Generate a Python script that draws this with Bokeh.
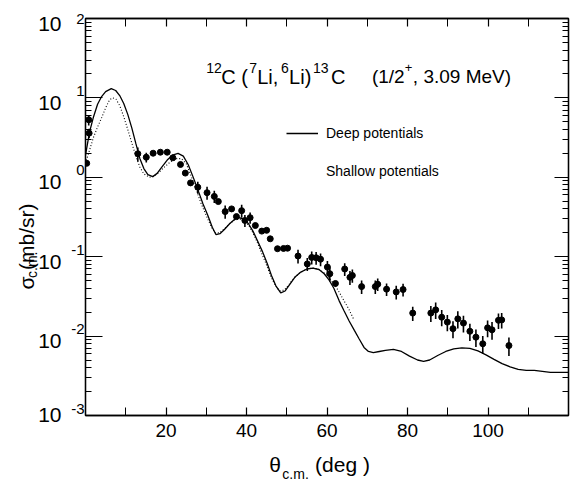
import numpy as np
from bokeh.plotting import figure
from bokeh.models import (ColumnDataSource, LinearAxis, LogAxis, FixedTicker, Label,
                          Legend, LegendItem, Range1d, CustomJSTickFormatter)
from bokeh.embed import file_html
from bokeh.resources import INLINE

FONT = "Liberation Sans"

# ---------------- data ----------------
deep_theta = [0.0, 1.0, 2.0, 3.0, 4.0, 5.0, 6.4, 7.5, 8.5, 9.5, 10.5, 11.5, 12.5, 13.5,
              14.5, 15.5, 16.7, 17.8, 19.0, 20.3, 21.6, 23.0, 24.3, 25.5, 26.7, 28.0,
              29.2, 30.4, 31.5, 32.4, 33.4, 34.5, 35.8, 37.0, 38.2, 39.4, 40.5, 41.6,
              42.7, 44.0, 45.2, 46.2, 47.3, 48.5, 49.6, 50.8, 52.0, 53.5, 55.0, 56.5,
              58.0, 59.3, 60.5, 61.7, 63.0, 64.2, 65.5, 66.8, 68.0, 69.2, 70.3, 71.5,
              73.0, 74.5, 76.5, 78.5, 80.5, 82.5, 84.0, 85.5, 87.5, 89.5, 91.5, 93.5,
              95.5, 97.5, 99.5, 101.5, 103.5, 105.5, 107.5, 109.5, 111.5, 113.5, 115.5,
              117.5, 120.0]
deep_sigma = [1.9, 3.7, 5.8, 8.3, 10.4, 12.0, 13.1, 12.4, 10.7, 8.5, 6.2, 4.2, 2.67, 1.73,
              1.29, 1.08, 1.02, 1.12, 1.35, 1.65, 1.9, 2.0, 1.85, 1.45, 1.02, 0.68,
              0.46, 0.33, 0.235, 0.19, 0.195, 0.22, 0.26, 0.295, 0.31, 0.295, 0.26, 0.21,
              0.16, 0.115, 0.081, 0.058, 0.043, 0.035, 0.037, 0.045, 0.055, 0.064, 0.070,
              0.072, 0.069, 0.061, 0.051, 0.040, 0.028, 0.021, 0.0155, 0.0118, 0.0092,
              0.0072, 0.0064, 0.0062, 0.0064, 0.0066, 0.0068, 0.0064, 0.0056, 0.0050,
              0.0048, 0.0050, 0.0057, 0.0064, 0.0069, 0.0071, 0.0070, 0.0065, 0.0058,
              0.0051, 0.0045, 0.0041, 0.0038, 0.0037, 0.0037, 0.0036, 0.0035, 0.0035,
              0.0035]

shallow_theta = [0.0, 1.0, 2.0, 3.0, 4.0, 5.0, 6.0, 6.8, 7.6, 8.5, 9.5, 10.5, 11.5, 12.5,
                 13.5, 14.5, 15.9, 17.0, 18.2, 19.5, 21.0, 22.5, 23.8, 25.0, 26.2, 27.5,
                 28.7, 30.0, 31.2, 32.2, 33.3, 34.5, 35.8, 37.0, 38.2, 39.4, 40.5, 41.6,
                 42.7, 43.8, 45.0, 46.0, 47.1, 48.2, 49.4, 50.6, 51.8, 53.3, 54.8, 56.3,
                 57.8, 59.2, 60.5, 61.8, 63.0, 64.2, 65.4, 66.7]
shallow_sigma = [1.5, 2.2, 3.2, 4.3, 5.6, 7.5, 9.5, 10.0, 9.6, 8.0, 5.8, 4.0, 2.7, 1.85,
                 1.35, 1.1, 1.0, 1.03, 1.15, 1.33, 1.55, 1.72, 1.72, 1.5, 1.05, 0.7,
                 0.47, 0.33, 0.24, 0.2, 0.2, 0.225, 0.26, 0.29, 0.3, 0.285, 0.25, 0.2,
                 0.15, 0.11, 0.078, 0.057, 0.044, 0.037, 0.038, 0.045, 0.054, 0.063, 0.069,
                 0.072, 0.070, 0.063, 0.054, 0.045, 0.036, 0.028, 0.022, 0.016]

exp_theta = [0.8, 0.9, 0.3, 13.0, 15.1, 16.8, 18.6, 20.3, 21.7, 23.6, 24.8, 26.1, 27.9,
             30.2, 32.0, 33.0, 34.7, 36.3, 37.5, 38.8, 39.6, 40.9, 42.2, 43.8, 45.0, 45.9,
             47.7, 49.2, 50.2, 52.8, 55.1, 56.2, 57.3, 58.4, 60.1, 60.7, 62.1, 64.4, 65.7,
             66.3, 68.6, 72.0, 72.6, 74.8, 77.2, 78.9, 81.3, 85.8, 87.0, 88.5, 89.9, 91.3,
             92.5, 93.9, 95.5, 97.0, 98.7, 99.9, 101.0, 102.6, 103.4, 105.2]
exp_sigma = [5.3, 3.6, 1.5, 1.98, 1.79, 2.01, 2.07, 2.07, 1.76, 1.45, 1.13, 0.85, 0.75,
             0.64, 0.575, 0.495, 0.37, 0.40, 0.32, 0.38, 0.286, 0.31, 0.247, 0.21, 0.215,
             0.168, 0.126, 0.127, 0.128, 0.102, 0.081, 0.098, 0.097, 0.093, 0.074, 0.061,
             0.046, 0.070, 0.055, 0.058, 0.042, 0.042, 0.045, 0.039, 0.036, 0.0386, 0.0195,
             0.0195, 0.0214, 0.0173, 0.015, 0.0124, 0.0165, 0.0146, 0.0115, 0.0097, 0.008,
             0.0127, 0.012, 0.0158, 0.016, 0.0076]
exp_err = [0.8, 0.5, 0.0, 0.4, 0.25, 0.0, 0.0, 0.0, 0.0, 0.0, 0.0, 0.0, 0.13,
           0.12, 0.1, 0.0, 0.07, 0.0, 0.0, 0.07, 0.05, 0.05, 0.0, 0.0, 0.0,
           0.0, 0.0, 0.0, 0.0, 0.02, 0.015, 0.018, 0.018, 0.017, 0.014, 0.012,
           0.0, 0.013, 0.011, 0.011, 0.008, 0.008, 0.008, 0.007, 0.007, 0.007, 0.004,
           0.0045, 0.005, 0.004, 0.0035, 0.003, 0.004, 0.0035, 0.0028, 0.0024, 0.002,
           0.003, 0.003, 0.0035, 0.0035, 0.002]

x_label_ticks = [20, 40, 60, 80, 100]
x_minor_ticks = [10, 30, 50, 70, 90, 110]
y_tick_values = [1e-3, 1e-2, 1e-1, 1e0, 1e1, 1e2]
y_tick_base = ["10", "10", "10", "10", "10", "10"]
y_tick_exp = ["-3", "-2", "-1", "0", "1", "2"]

x_title_main = ["\u03b8", "(deg )"]
x_title_sub = ["c.m."]
y_title_main = ["\u03c3", "(mb/sr)"]
y_title_sub = ["c.m."]
legend_labels = ["Deep potentials", "Shallow potentials"]

# ---------------- layout helpers (page pixel -> data position for text) ----------------
X_END = 120.0
FR_L, FR_R, FR_T, FR_B = 84.0, 568.0, 18.0, 415.0
PX_DEG = (FR_R - FR_L) / X_END
PX_DEC = (FR_B - FR_T) / 5.0
def dx(px):
    return (px - FR_L) / PX_DEG
def dy(py):
    py = min(max(py, FR_T + 0.5), FR_B - 0.5)
    return 10 ** (2 - (py - FR_T) / PX_DEC)
def py_of(v):
    return FR_T + (2 - np.log10(v)) * PX_DEC

# ---------------- figure ----------------
p = figure(width=570, height=484, x_range=Range1d(0, X_END), y_range=Range1d(1e-3, 1e2),
           y_axis_type="log", output_backend="svg", toolbar_location=None,
           x_axis_location=None, y_axis_location=None,
           min_border_left=84, min_border_right=2, min_border_top=18, min_border_bottom=69)
p.xgrid.visible = False
p.ygrid.visible = False
p.outline_line_color = "black"
p.outline_line_width = 1.3
p.background_fill_color = "white"
p.border_fill_color = "white"

y_minor = [m * 10.0 ** k for k in range(-3, 2) for m in range(2, 10)]
blank_fmt = CustomJSTickFormatter(code="return ''")

def style(ax, major_in, minor_in, show_labels=False):
    ax.axis_line_color = "black"
    ax.axis_line_width = 1.3
    ax.major_tick_in = major_in
    ax.major_tick_out = 0
    ax.minor_tick_in = minor_in
    ax.minor_tick_out = 0
    ax.major_tick_line_color = "black"
    ax.minor_tick_line_color = "black"
    ax.major_tick_line_width = 1.2
    ax.minor_tick_line_width = 1.0
    if show_labels:
        ax.major_label_text_font = FONT
        ax.major_label_text_font_size = "19px"
        ax.major_label_text_color = "black"
        ax.major_label_standoff = 8
    else:
        ax.formatter = blank_fmt
        ax.major_label_text_font_size = "6px"
        ax.major_label_text_color = None
        ax.major_label_standoff = 0

def text_axis(cls, vals, labels, size, standoff, angle=None):
    """An axis without line or ticks that only carries text labels."""
    fmt = CustomJSTickFormatter(args=dict(vals=list(vals), labs=list(labels)), code="""
        let best = 0;
        for (let i = 0; i < vals.length; i++) {
            if (Math.abs(vals[i] - tick) < Math.abs(vals[best] - tick)) best = i;
        }
        return labs[best];
    """)
    ax = cls(ticker=FixedTicker(ticks=list(vals), minor_ticks=[]), formatter=fmt)
    ax.axis_line_color = None
    ax.major_tick_line_color = None
    ax.minor_tick_line_color = None
    ax.major_tick_in = 0
    ax.major_tick_out = 0
    ax.major_label_text_font = FONT
    ax.major_label_text_font_size = f"{size}px"
    ax.major_label_text_color = "black"
    ax.major_label_standoff = standoff
    if angle is not None:
        ax.major_label_orientation = angle
    return ax

# frame axes (ticks on all four sides, pointing inward)
xb = LinearAxis(ticker=FixedTicker(ticks=x_label_ticks, minor_ticks=x_minor_ticks))
style(xb, 8, 8, show_labels=True)
p.add_layout(xb, "below")
xt = LinearAxis(ticker=FixedTicker(ticks=x_label_ticks, minor_ticks=x_minor_ticks))
style(xt, 8, 8)
p.add_layout(xt, "above")
yl = LogAxis(ticker=FixedTicker(ticks=y_tick_values, minor_ticks=y_minor))
style(yl, 17, 6)
p.add_layout(yl, "left")
yr = LogAxis(ticker=FixedTicker(ticks=y_tick_values, minor_ticks=y_minor))
style(yr, 14, 6)
p.add_layout(yr, "right")

# y tick labels: "10" with a raised exponent
exp_pos = [dy(py_of(v) - 7) for v in y_tick_values]
base_pos = [dy(py_of(v) + 5) for v in y_tick_values]
p.add_layout(text_axis(LogAxis, exp_pos, y_tick_exp, 15, 1), "left")
p.add_layout(text_axis(LogAxis, base_pos, y_tick_base, 21, 7), "left")

# y axis title (rotated), pieces stacked outward
p.add_layout(text_axis(LogAxis, [dy(251)], y_title_sub, 14, 4, angle=np.pi / 2), "left")
p.add_layout(text_axis(LogAxis, [dy(276), dy(203)], y_title_main, 21, -14,
                       angle=np.pi / 2), "left")

# x axis title
p.add_layout(text_axis(LinearAxis, [dx(274), dx(341.5)], x_title_main, 21, 13), "below")
p.add_layout(text_axis(LinearAxis, [dx(294.5)], x_title_sub, 14, -13), "below")

# ---------------- curves and data ----------------
deep = p.line(deep_theta, deep_sigma, line_color="black", line_width=1.3)
shallow = p.line(shallow_theta, shallow_sigma, line_color="black", line_width=1.1,
                 line_dash="1 2")

ex = np.array(exp_theta)
es = np.array(exp_sigma)
ee = np.array(exp_err)
src = ColumnDataSource(dict(x=ex, y=es, lo=es - ee, hi=es + ee))
p.segment(x0="x", y0="lo", x1="x", y1="hi", source=src, line_color="black", line_width=1.6)
p.scatter(x="x", y="y", source=src, marker="circle", size=6, fill_color="black",
          line_color="black")

# ---------------- legend ----------------
blank = p.line(x=[], y=[], line_color="white", line_alpha=0)
legend = Legend(items=[LegendItem(label=legend_labels[0], renderers=[deep]),
                       LegendItem(label=legend_labels[1], renderers=[blank])],
                location=(201, 234), padding=0, margin=0, spacing=18,
                label_height=20, glyph_height=20, glyph_width=32, label_standoff=8,
                label_text_font=FONT, label_text_font_size="14px", label_text_color="black",
                border_line_alpha=0, background_fill_alpha=0)
p.add_layout(legend, "center")

# ---------------- title inside the frame ----------------
def lab(text, px, py, size):
    p.add_layout(Label(x=dx(px), y=dy(py), text=text, text_font=FONT,
                       text_font_size=f"{size}px", text_color="black",
                       text_align="left", text_baseline="alphabetic"))

# 12C (7Li,6Li)13C  (1/2+, 3.09 MeV)
BL, SBL = 76, 67
lab("12", 205, SBL, 14)
lab("C", 220, BL, 20)
lab("(", 240, BL, 20)
lab("7", 248, SBL, 14)
lab("Li,", 256, BL, 20)
lab("6", 280, SBL, 14)
lab("Li)", 288, BL, 20)
lab("13", 312, SBL, 14)
lab("C", 330, BL, 20)
lab("(1/2", 371, BL, 19)
lab("+", 404, SBL, 13)
lab(", 3.09 MeV)", 412, BL, 19)

open("out.html", "w").write(file_html(p, INLINE))
